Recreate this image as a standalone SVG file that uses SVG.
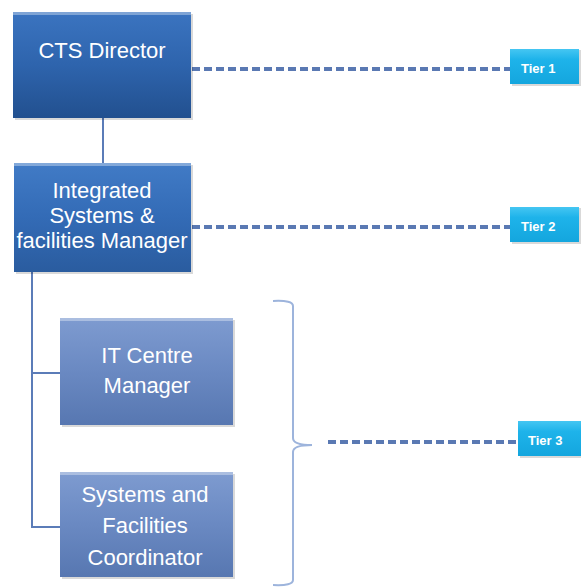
<svg xmlns="http://www.w3.org/2000/svg" width="581" height="588" viewBox="0 0 581 588">
  <defs>
    <linearGradient id="gDark" x1="0" y1="0" x2="0" y2="1">
      <stop offset="0" stop-color="#3B74C0"/>
      <stop offset="0.5" stop-color="#2E64AD"/>
      <stop offset="1" stop-color="#22508F"/>
    </linearGradient>
    <linearGradient id="gMid" x1="0" y1="0" x2="0" y2="1">
      <stop offset="0" stop-color="#417BC6"/>
      <stop offset="0.5" stop-color="#336BB6"/>
      <stop offset="1" stop-color="#2A5C9F"/>
    </linearGradient>
    <linearGradient id="gLight" x1="0" y1="0" x2="0" y2="1">
      <stop offset="0" stop-color="#7E9BD0"/>
      <stop offset="0.5" stop-color="#6A89C2"/>
      <stop offset="1" stop-color="#5777B1"/>
    </linearGradient>
    <linearGradient id="gTier" x1="0" y1="0" x2="0" y2="1">
      <stop offset="0" stop-color="#45C6F2"/>
      <stop offset="0.3" stop-color="#1EB3EA"/>
      <stop offset="1" stop-color="#14A6DE"/>
    </linearGradient>
  </defs>
  <style>
    .box { stroke: none; }
    .shade { fill: #000; opacity: 0.15; }
    .hl { fill: #FFFFFF; opacity: 0.35; }
    .lbl { font-family: "Liberation Sans", Arial, sans-serif; font-size: 22px; fill: #FFFFFF; text-anchor: middle; }
    .tier { font-family: "Liberation Sans", Arial, sans-serif; font-size: 13px; font-weight: bold; fill: #FFFFFF; }
    .link { fill: none; stroke: #5B7CB8; stroke-width: 2; }
    .dash { fill: none; stroke: #5A79B3; stroke-width: 4; stroke-dasharray: 8 4; }
    .brace { fill: none; stroke: #9DB4DC; stroke-width: 2; }
  </style>

  <rect width="581" height="588" fill="#FFFFFF"/>

  <g id="connectors">
    <line class="link" x1="103" y1="118" x2="103" y2="164"/>
    <polyline class="link" points="32,272 32,527 60,527"/>
    <line class="link" x1="32" y1="373" x2="60" y2="373"/>
    <line class="dash" x1="192" y1="69" x2="511" y2="69"/>
    <line class="dash" x1="192" y1="227" x2="511" y2="227"/>
    <line class="dash" x1="328" y1="442" x2="518" y2="442"/>
    <path class="brace" d="M273,301 Q293,300 293,306 L293,438 Q293,445 312,445 Q293,445 293,452 L293,580 Q293,586 273,585"/>
  </g>

  <g id="cts-director">
    <rect class="shade" x="15" y="14" width="178" height="106"/>
    <rect class="box" x="13" y="12" width="178" height="106" fill="url(#gDark)"/>
    <rect class="hl" x="13" y="12" width="178" height="3"/>
    <text class="lbl" x="102" y="58">CTS Director</text>
  </g>

  <g id="systems-manager">
    <rect class="shade" x="16" y="165" width="177" height="109"/>
    <rect class="box" x="14" y="163" width="177" height="109" fill="url(#gMid)"/>
    <rect class="hl" x="14" y="163" width="177" height="3"/>
    <text class="lbl" x="102" y="198">Integrated</text>
    <text class="lbl" x="102" y="223">Systems &amp;</text>
    <text class="lbl" x="102" y="248">facilities Manager</text>
  </g>

  <g id="it-centre-manager">
    <rect class="shade" x="62" y="320" width="173" height="107"/>
    <rect class="box" x="60" y="318" width="173" height="107" fill="url(#gLight)"/>
    <rect class="hl" x="60" y="318" width="173" height="3"/>
    <text class="lbl" x="147" y="363">IT Centre</text>
    <text class="lbl" x="147" y="393">Manager</text>
  </g>

  <g id="facilities-coordinator">
    <rect class="shade" x="62" y="474" width="173" height="105"/>
    <rect class="box" x="60" y="472" width="173" height="105" fill="url(#gLight)"/>
    <rect class="hl" x="60" y="472" width="173" height="3"/>
    <text class="lbl" x="145" y="502">Systems and</text>
    <text class="lbl" x="145" y="533">Facilities</text>
    <text class="lbl" x="145" y="565">Coordinator</text>
  </g>

  <g id="tier-1">
    <rect class="shade" x="512" y="50" width="69" height="36"/>
    <rect x="510" y="49" width="69" height="35" fill="url(#gTier)"/>
    <text class="tier" x="521" y="73">Tier 1</text>
  </g>

  <g id="tier-2">
    <rect class="shade" x="512" y="208" width="69" height="36"/>
    <rect x="510" y="207" width="69" height="35" fill="url(#gTier)"/>
    <text class="tier" x="521" y="231">Tier 2</text>
  </g>

  <g id="tier-3">
    <rect class="shade" x="520" y="422" width="61" height="36"/>
    <rect x="518" y="421" width="63" height="35" fill="url(#gTier)"/>
    <text class="tier" x="528" y="445">Tier 3</text>
  </g>
</svg>
